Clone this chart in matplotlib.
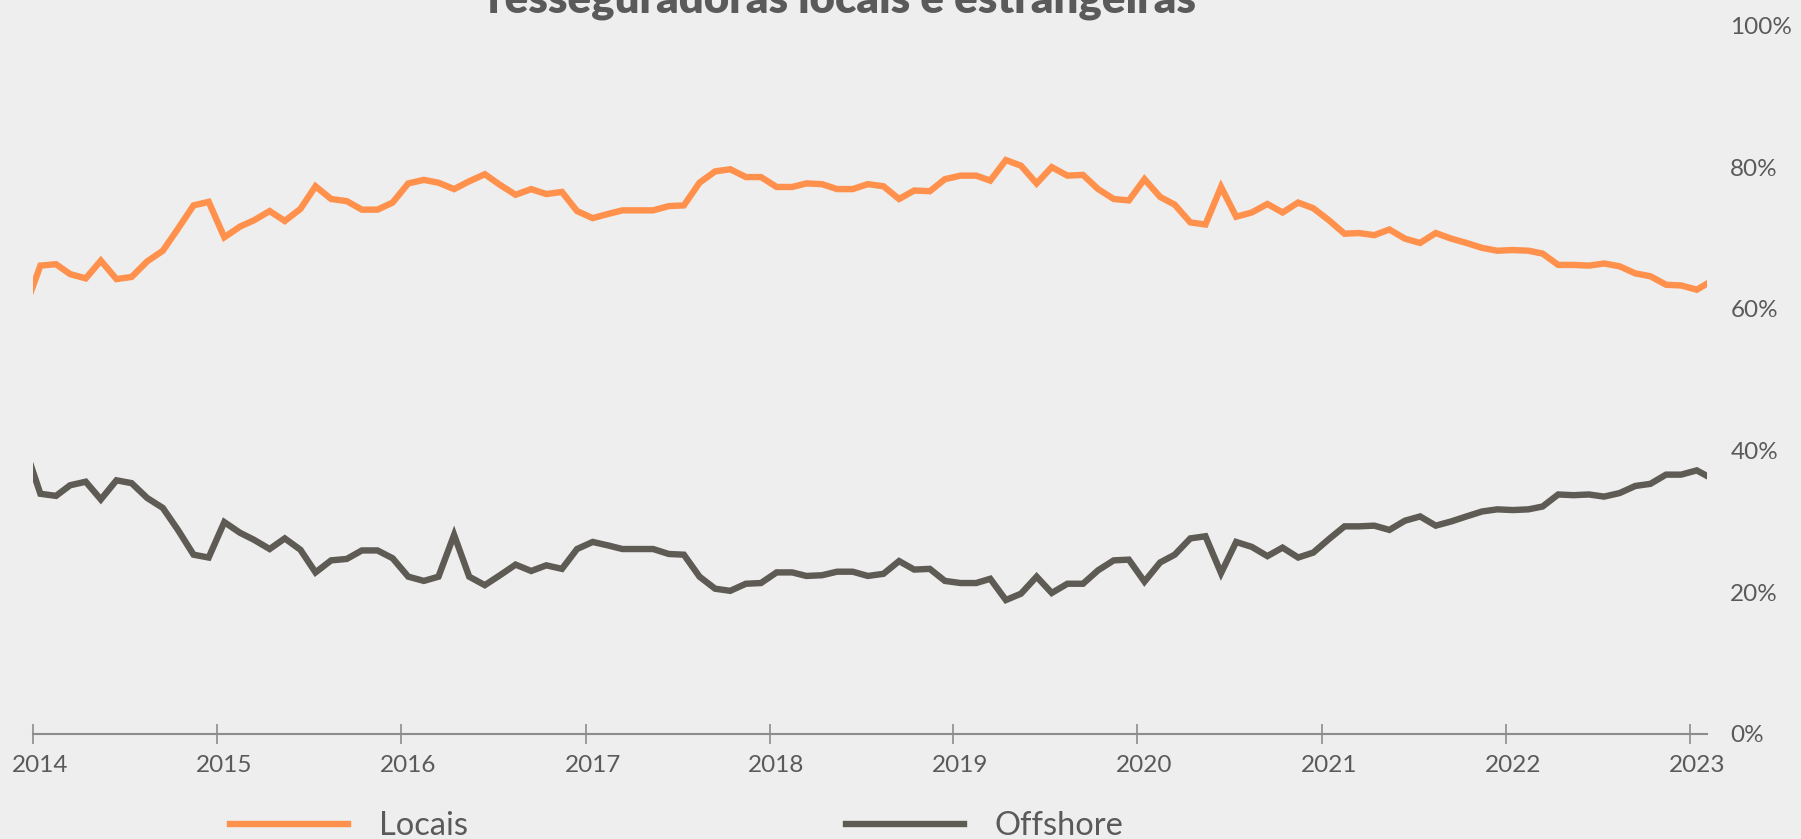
import numpy as np
import pandas as pd
import matplotlib
matplotlib.use("Agg")
import matplotlib.pyplot as plt
import matplotlib.dates as mdates
import matplotlib.transforms as mtransforms

plt.rcParams['font.family'] = ['Lato', 'DejaVu Sans']

# monthly points, Dec 2013 .. Feb 2023 (plotted mid-month)
dates = pd.date_range('2013-12-01', periods=111, freq='MS') + pd.Timedelta(days=14)

locais = [
    60.0,
    66.1, 66.3, 64.9, 64.3, 66.8, 64.2, 64.5, 66.7, 68.2, 71.3, 74.6, 75.1,
    70.1, 71.6, 72.5, 73.8, 72.4, 74.1, 77.3, 75.5, 75.2, 74.0, 74.0, 75.0,
    77.7, 78.2, 77.8, 76.9, 78.0, 79.0, 77.5, 76.1, 76.9, 76.2, 76.5, 73.8,
    72.8, 73.4, 73.9, 73.9, 73.9, 74.5, 74.6, 77.8, 79.4, 79.7, 78.6, 78.6,
    77.2, 77.2, 77.7, 77.6, 76.9, 76.9, 77.6, 77.3, 75.5, 76.7, 76.6, 78.3,
    78.8, 78.8, 78.1, 81.0, 80.2, 77.7, 80.0, 78.8, 78.9, 76.9, 75.5, 75.3,
    78.3, 75.8, 74.7, 72.2, 71.9, 77.2, 73.0, 73.6, 74.8, 73.6, 75.0, 74.2,
    72.5, 70.6, 70.7, 70.4, 71.2, 69.9, 69.3, 70.7, 69.9, 69.3, 68.6, 68.2,
    68.3, 68.2, 67.8, 66.2, 66.2, 66.1, 66.4, 66.0, 65.0, 64.6, 63.4, 63.3,
    62.7, 64.0,
]

offshore = [
    40.5,
    33.9, 33.6, 35.1, 35.6, 33.1, 35.8, 35.4, 33.3, 31.9, 28.8, 25.3, 24.9,
    29.9, 28.4, 27.4, 26.1, 27.6, 26.0, 22.8, 24.5, 24.7, 25.9, 25.9, 24.8,
    22.2, 21.6, 22.2, 28.1, 22.2, 21.0, 22.4, 23.9, 23.0, 23.8, 23.3, 26.1,
    27.1, 26.6, 26.1, 26.1, 26.1, 25.4, 25.3, 22.2, 20.5, 20.2, 21.2, 21.3,
    22.8, 22.8, 22.3, 22.4, 22.9, 22.9, 22.3, 22.6, 24.4, 23.2, 23.3, 21.6,
    21.3, 21.3, 21.9, 18.9, 19.8, 22.2, 19.9, 21.2, 21.2, 23.1, 24.5, 24.6,
    21.5, 24.2, 25.3, 27.6, 27.9, 22.7, 27.1, 26.4, 25.1, 26.3, 24.9, 25.6,
    27.5, 29.3, 29.3, 29.4, 28.8, 30.1, 30.7, 29.4, 30.0, 30.7, 31.4, 31.7,
    31.6, 31.7, 32.1, 33.8, 33.7, 33.8, 33.5, 34.0, 35.0, 35.3, 36.6, 36.6,
    37.2, 36.0,
]

title = 'resseguradoras locais e estrangeiras'
bg = '#eeeeee'
orange = '#ff914d'
dark = '#5e5a54'
txt = '#5a5a5a'

fig = plt.figure(figsize=(18.01, 8.39), dpi=100, facecolor=bg)
ax = fig.add_axes([0.0185, 0.1252, 0.9295, 0.8445], facecolor=bg)

ax.plot(dates, locais, color=orange, lw=4.6, label='Locais', solid_joinstyle='miter')
ax.plot(dates, offshore, color=dark, lw=4.6, label='Offshore', solid_joinstyle='miter')

ax.set_xlim(pd.Timestamp('2014-01-01'), pd.Timestamp('2023-02-05'))
ax.set_ylim(0, 100)

# y axis on the right, labels only
ax.yaxis.tick_right()
ax.set_yticks([0, 20, 40, 60, 80, 100])
ax.set_yticklabels(['0%', '20%', '40%', '60%', '80%', '100%'])
ax.tick_params(axis='y', length=0, pad=16.5, labelsize=17.5, labelcolor=txt)

# x axis: yearly ticks crossing the axis line
ax.xaxis.set_major_locator(mdates.YearLocator())
ax.xaxis.set_major_formatter(mdates.DateFormatter('%Y'))
ax.tick_params(axis='x', direction='inout', length=14, width=1.2, color='#8c8c8c',
               pad=8, labelsize=17.5, labelcolor=txt)
offset = mtransforms.ScaledTranslation(7 / 100, 0, fig.dpi_scale_trans)
for lab in ax.get_xticklabels():
    lab.set_transform(lab.get_transform() + offset)

for s in ['top', 'left', 'right']:
    ax.spines[s].set_visible(False)
ax.spines['bottom'].set_color('#8c8c8c')
ax.spines['bottom'].set_linewidth(1.5)

# title (cut off at the top in the original)
fig.text(0.4675, 1 - 13 / 839, title, ha='center', va='baseline',
         fontsize=31.5, fontweight='heavy', color=txt)

fig.legend(loc='center left', bbox_to_anchor=(230 / 1801, 13 / 839), ncol=2,
           frameon=False, fontsize=23.5, labelcolor=txt, handlelength=3.6,
           handletextpad=0.95, columnspacing=11.6, borderaxespad=0, borderpad=0)

fig.savefig('out.png', dpi=100, facecolor=bg)
